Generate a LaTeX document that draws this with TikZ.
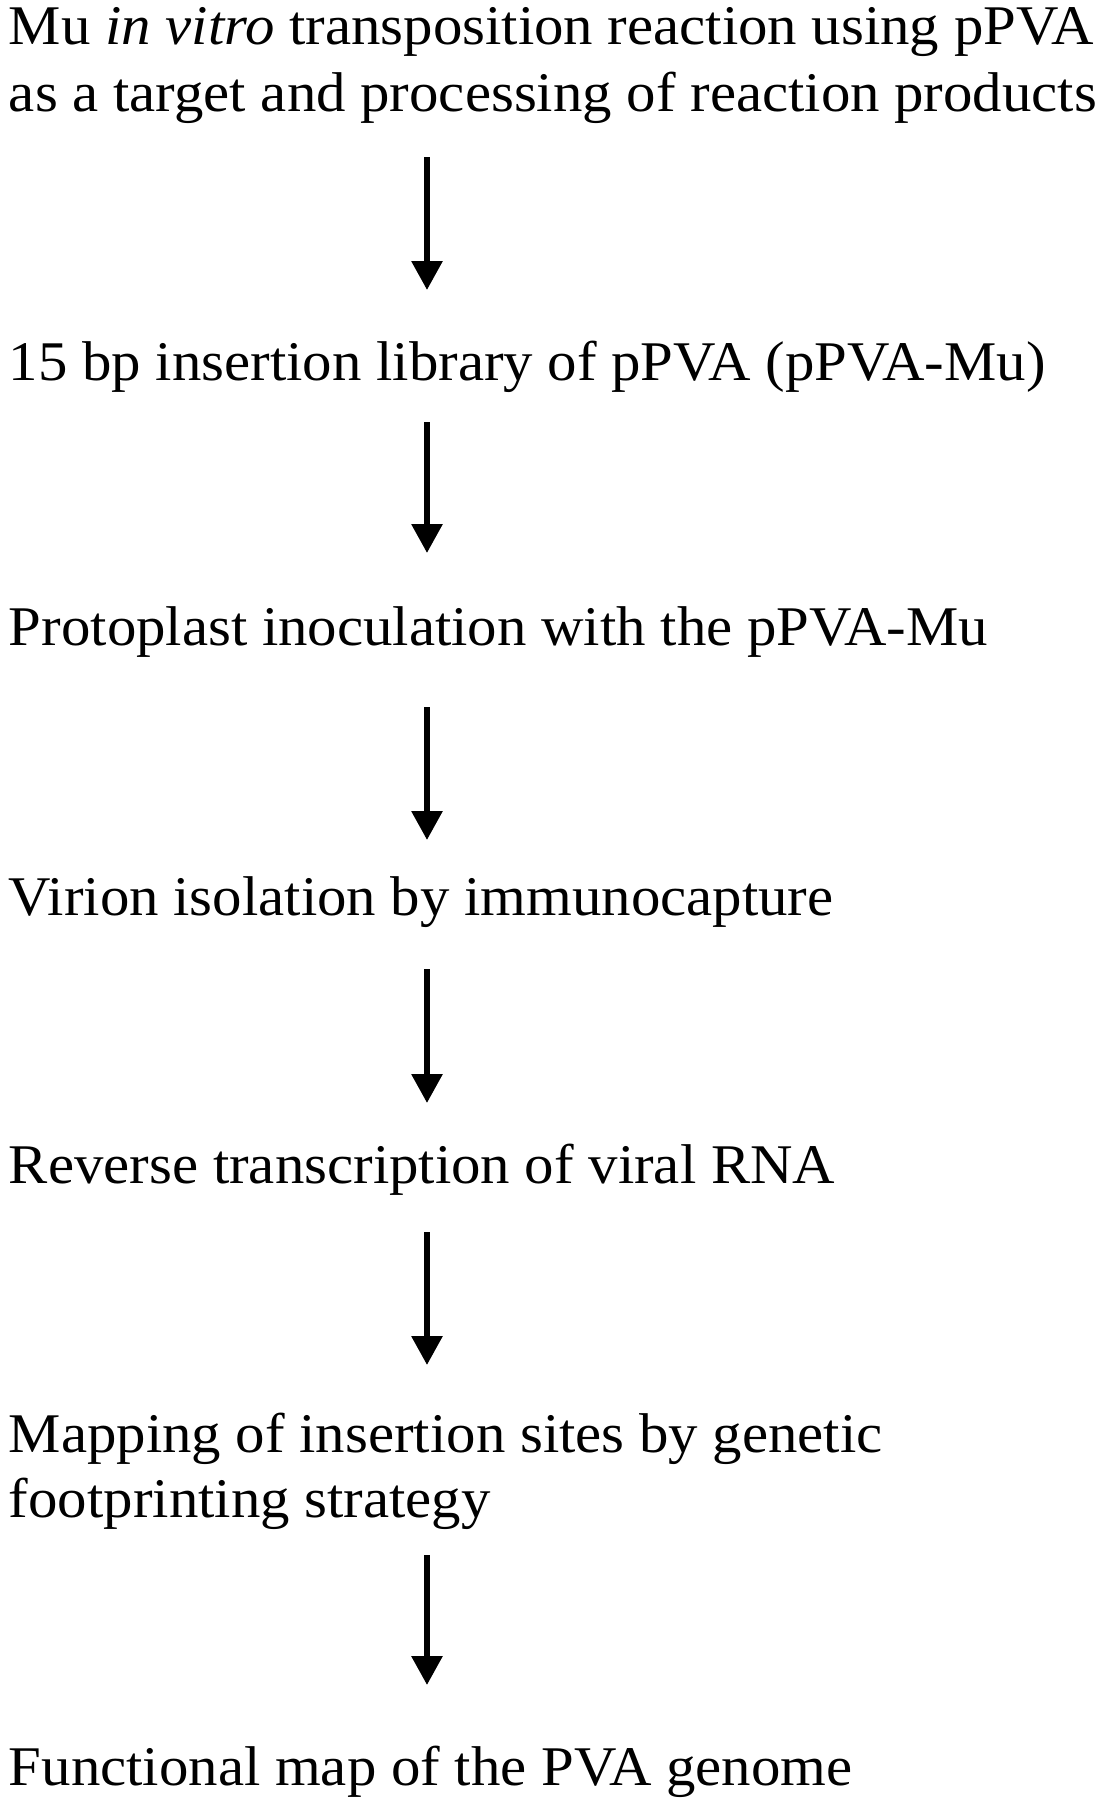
\documentclass[tikz,border=0pt]{standalone}
\usepackage{fontspec}
\setmainfont[FakeStretch=1.05]{Liberation Serif}
\usetikzlibrary{arrows.meta,calc}
\begin{document}
\begin{tikzpicture}[x=1pt,y=1pt,
  stepline/.style={anchor=base west,inner sep=0pt,outer sep=0pt,
    font=\fontsize{56}{67}\selectfont},
  flow/.style={line width=6pt,-{Triangle[width=30pt,length=29pt]}}]
\useasboundingbox[fill=white] (0,0) rectangle (1097,-1800);
\coordinate (ax) at (427,0);
\node[stepline] (l1a) at (9,-44) {Mu \textit{in vitro} transposition reaction using pPVA};
\node[stepline] (l1b) at (9,-111) {as a target and processing of reaction products};
\node[stepline] (l2) at (9,-380) {15 bp insertion library of pPVA (pPVA-Mu)};
\node[stepline] (l3) at (9,-645) {Protoplast inoculation with the pPVA-Mu};
\node[stepline] (l4) at (9,-915) {Virion isolation by immunocapture};
\node[stepline] (l5) at (9,-1183) {Reverse transcription of viral RNA};
\node[stepline] (l6a) at (9,-1452) {Mapping of insertion sites by genetic};
\node[stepline] (l6b) at (9,-1517) {footprinting strategy};
\node[stepline] (l7) at (9,-1785) {Functional map of the PVA genome};
\draw[flow] ($(ax|-l1b.base)+(0,-46)$) -- ($(ax|-l2.base)+(0,90)$);
\draw[flow] ($(ax|-l2.base)+(0,-42)$) -- ($(ax|-l3.base)+(0,92)$);
\draw[flow] ($(ax|-l3.base)+(0,-62)$) -- ($(ax|-l4.base)+(0,75)$);
\draw[flow] ($(ax|-l4.base)+(0,-54)$) -- ($(ax|-l5.base)+(0,80)$);
\draw[flow] ($(ax|-l5.base)+(0,-49)$) -- ($(ax|-l6a.base)+(0,87)$);
\draw[flow] ($(ax|-l6b.base)+(0,-38)$) -- ($(ax|-l7.base)+(0,100)$);
\end{tikzpicture}
\end{document}
